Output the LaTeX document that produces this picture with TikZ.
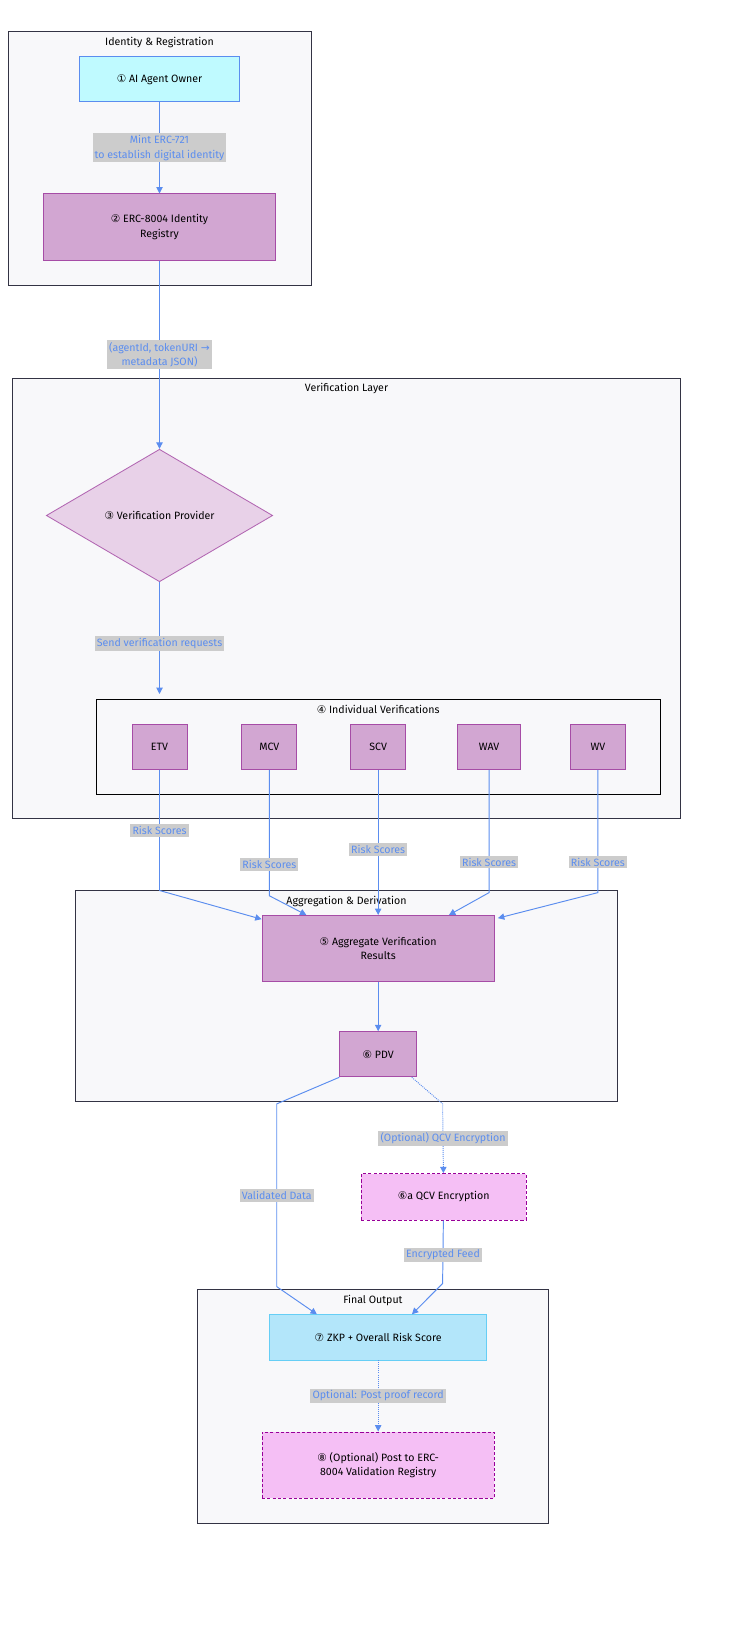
\documentclass[tikz,border=0pt]{standalone}
\usepackage{fontspec}
\setmainfont{Fira Sans}
\newfontfamily\symfont{DejaVu Sans}
\usetikzlibrary{calc, positioning, arrows.meta, shapes.geometric}
\definecolor{linkblue}{HTML}{5B8DEF}
\definecolor{grpfill}{HTML}{F8F8FA}
\definecolor{grpline}{HTML}{333344}
\definecolor{lblgray}{HTML}{CCCCCC}
\newcommand{\cn}[1]{{\symfont #1}}
\tikzset{
    group_box/.style={draw=grpline, fill=grpfill, line width=0.9pt},
    group_title/.style={font=\fontsize{10pt}{12pt}\selectfont, text=black},
    step_node/.style={rectangle, draw=#1!70!black, line width=0.8pt, text centered, align=center,
        font=\fontsize{10pt}{13.5pt}\selectfont, inner sep=2pt},
    blue_node/.style={step_node=blue, fill=blue!10!cyan!20!white, draw=linkblue},
    purple_node/.style={rectangle, fill=violet!35!white, draw=violet!70!white, line width=0.8pt,
        text centered, align=center, font=\fontsize{10pt}{13.5pt}\selectfont},
    opt_node/.style={purple_node, fill=violet!30!magenta!25!white, draw=violet!80!magenta, densely dashed},
    arrow/.style={linkblue, line width=0.9pt, -{Triangle[length=6pt,width=6pt]}},
    dotted_arrow/.style={arrow, densely dotted},
    edge_label/.style={fill=lblgray, align=center, font=\fontsize{10pt}{13.5pt}\selectfont, inner sep=2pt},
}
\begin{document}
\begin{tikzpicture}[x=0.035cm, y=-0.035cm]
      \useasboundingbox (0,0) rectangle (710,1562);
      %%%%%%%%%%
      % Groups %
      %%%%%%%%%%
      \draw [group_box] (8,30) rectangle (295,270);
      \node (t_ident) [group_title] at (151,40) {Identity \& Registration};
      \draw [group_box] (12,358) rectangle (644,775);
      \node (t_verif) [group_title] at (328,368) {Verification Layer};
      \draw [draw=black, line width=0.9pt] (91,662) rectangle (625,752);
      \node (t_indiv) [group_title] at (358,672) {\cn{④} Individual Verifications};
      \draw [group_box] (71,843) rectangle (585,1043);
      \node (t_aggr) [group_title] at (328,853) {Aggregation \& Derivation};
      \draw [group_box] (187,1221) rectangle (519,1442);
      \node (t_final) [group_title] at (353,1231) {Final Output};

      %%%%%%%%%
      % Nodes %
      %%%%%%%%%
      \node (owner) [blue_node, fill=blue!8!cyan!25!white, minimum width=5.29cm, minimum height=1.5cm] at (151,75)
          {\cn{①} AI Agent Owner};
      \node (registry) [purple_node, minimum width=7.7cm, minimum height=2.2cm] at (151,215)
          {\cn{②} ERC-8004 Identity\\Registry};
      \node (provider) [diamond, aspect=1, fill=violet!18!white, draw=violet!60!white, line width=0.8pt,
          minimum width=7.5cm, font=\fontsize{10pt}{13.5pt}\selectfont] at (151,488)
          {\cn{③} Verification Provider};
      \coordinate (indiv_in) at (151,657);

      \node (etv) [purple_node, minimum width=1.82cm, minimum height=1.5cm] at (151,707) {ETV};
      \node (mcv) [purple_node, minimum width=1.82cm, minimum height=1.5cm] at (255,707) {MCV};
      \node (scv) [purple_node, minimum width=1.82cm, minimum height=1.5cm] at (358,707) {SCV};
      \node (wav) [purple_node, minimum width=2.1cm, minimum height=1.5cm] at (463,707) {WAV};
      \node (wv) [purple_node, minimum width=1.82cm, minimum height=1.5cm] at (566,707) {WV};

      \node (aggregate) [purple_node, minimum width=7.7cm, minimum height=2.2cm] at (358,898)
          {\cn{⑤} Aggregate Verification\\Results};
      \node (pdv) [purple_node, minimum width=2.55cm, minimum height=1.5cm] at (358,998)
          {\cn{⑥} PDV};
      \node (qcv) [opt_node, minimum width=5.46cm, minimum height=1.54cm] at (420,1133)
          {\cn{⑥}a QCV Encryption};
      \node (zkp) [purple_node, fill=cyan!30!white, draw=cyan!60!white, minimum width=7.2cm, minimum height=1.5cm] at (358,1266)
          {\cn{⑦} ZKP + Overall Risk Score};
      \node (post) [opt_node, minimum width=7.7cm, minimum height=2.2cm] at (358,1387)
          {\cn{⑧} (Optional) Post to ERC-\\8004 Validation Registry};

      %%%%%%%%%%%%%%
      % Connectors %
      %%%%%%%%%%%%%%
      \draw [arrow] (owner) -- node [edge_label] {Mint ERC-721\\to establish digital identity} (registry);
      \draw [arrow] (registry) -- node [edge_label] {(agentId, tokenURI {\symfont →}\\metadata JSON)} (provider);
      \draw [arrow] (provider) -- node [edge_label, pos=0.55] {Send verification requests} (indiv_in);

      \draw [arrow] (etv) -- node [edge_label] {Risk Scores} (151,843) -- ($(aggregate.north west)+(0,4)$);
      \draw [arrow] (mcv) -- node [edge_label, pos=0.75] {Risk Scores} (255,848) -- ($(aggregate.north)+(-68,0)$);
      \draw [arrow] (scv) -- node [edge_label, pos=0.55] {Risk Scores} (aggregate);
      \draw [arrow] (wav) -- node [edge_label, pos=0.75] {Risk Scores} (463,845) -- ($(aggregate.north)+(67,0)$);
      \draw [arrow] (wv) -- node [edge_label, pos=0.75] {Risk Scores} (566,845) -- ($(aggregate.north east)+(3,3)$);

      \draw [arrow] (aggregate) -- (pdv);
      \draw [arrow] (pdv.south west) -- (262,1045) -- node [edge_label] {Validated Data} (262,1218)
          -- ($(zkp.north)+(-58,0)$);
      \draw [dotted_arrow] ($(pdv.south east)+(-5,0)$) -- (419,1045) -- node [edge_label, pos=0.5] {(Optional) QCV Encryption} (qcv);
      \draw [arrow] (qcv) -- node [edge_label, pos=0.55] {Encrypted Feed} (419,1215) -- ($(zkp.north)+(32,0)$);
      \draw [dotted_arrow] (zkp) -- node [edge_label] {Optional: Post proof record} (post);
\end{tikzpicture}
\end{document}
